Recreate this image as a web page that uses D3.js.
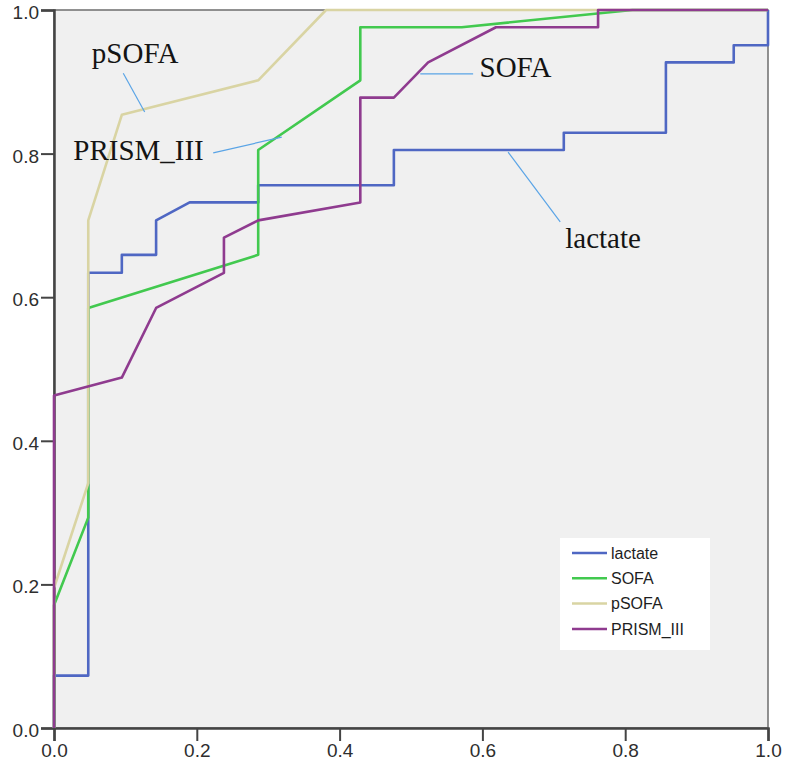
<!DOCTYPE html>
<html>
<head>
<meta charset="utf-8">
<script src="https://cdn.jsdelivr.net/npm/d3@7"></script>
<style>
  body { margin: 0; background: #fff; }
  svg { display: block; }
</style>
</head>
<body>
<svg id="chart" width="786" height="769"></svg>
<script>
// ROC curves: 1 - specificity (x) vs sensitivity (y)
const lactateX = [0, 0, 0.048, 0.048, 0.095, 0.095, 0.143, 0.143, 0.190, 0.286, 0.286, 0.476, 0.476, 0.714, 0.714, 0.857, 0.857, 0.952, 0.952, 1, 1]
const lactateY = [0, 0.073, 0.073, 0.634, 0.634, 0.659, 0.659, 0.707, 0.732, 0.732, 0.756, 0.756, 0.805, 0.805, 0.829, 0.829, 0.927, 0.927, 0.951, 0.951, 1]
const sofaX = [0, 0, 0.048, 0.048, 0.286, 0.286, 0.429, 0.429, 0.571, 0.810, 1]
const sofaY = [0, 0.171, 0.293, 0.585, 0.659, 0.805, 0.902, 0.976, 0.976, 1, 1]
const psofaX = [0, 0, 0.048, 0.048, 0.095, 0.286, 0.381, 1]
const psofaY = [0, 0.195, 0.341, 0.707, 0.854, 0.902, 1, 1]
const prismX = [0, 0, 0.095, 0.143, 0.238, 0.238, 0.286, 0.429, 0.429, 0.476, 0.524, 0.619, 0.762, 0.762, 1]
const prismY = [0, 0.463, 0.488, 0.585, 0.634, 0.683, 0.707, 0.732, 0.878, 0.878, 0.927, 0.976, 0.976, 1, 1]

const seriesNames = ["lactate", "SOFA", "pSOFA", "PRISM_III"]
const seriesColors = ["#4f67c3", "#42c94f", "#d9d4a3", "#8f3b8f"]
const ticks = [0, 0.2, 0.4, 0.6, 0.8, 1.0]

// curve labels with leader lines: [text, labelX, labelY, fromX, fromY, toX, toY] in data units
const callouts = [
  ["pSOFA", 0.053, 0.926, 0.097, 0.912, 0.127, 0.858],
  ["PRISM_III", 0.027, 0.791, 0.223, 0.801, 0.319, 0.823],
  ["SOFA", 0.596, 0.907, 0.513, 0.911, 0.587, 0.911],
  ["lactate", 0.716, 0.669, 0.636, 0.802, 0.709, 0.705]
]

const series = [
  {name: seriesNames[0], xs: lactateX, ys: lactateY},
  {name: seriesNames[1], xs: sofaX, ys: sofaY},
  {name: seriesNames[2], xs: psofaX, ys: psofaY},
  {name: seriesNames[3], xs: prismX, ys: prismY}
]

const svg = d3.select("#chart"),
      padLeft = 54, padRight = 768, padTop = 10, padBottom = 728

const x = d3.scaleLinear().domain([0, 1]).range([padLeft, padRight])
const y = d3.scaleLinear().domain([0, 1]).range([padBottom, padTop])
const color = d3.scaleOrdinal().domain(seriesNames).range(seriesColors)

// plot background
svg.append("rect")
  .attr("x", padLeft).attr("y", padTop)
  .attr("width", padRight - padLeft).attr("height", padBottom - padTop)
  .attr("fill", "#f0f0f0")
  .attr("stroke", "#6e6e6e")
  .attr("stroke-width", 1.5)

// axes
const xAxis = svg.append("g")
  .attr("transform", `translate(0,${padBottom})`)
  .call(d3.axisBottom(x).tickValues(ticks).tickFormat(d3.format(".1f")).tickSize(13).tickPadding(3))
const yAxis = svg.append("g")
  .attr("transform", `translate(${padLeft},0)`)
  .call(d3.axisLeft(y).tickValues(ticks).tickFormat(d3.format(".1f")).tickSize(13).tickPadding(2))

;[xAxis, yAxis].forEach(g => {
  g.select(".domain").attr("stroke", "#444").attr("stroke-width", 2.5)
  g.selectAll(".tick line").attr("stroke", "#444").attr("stroke-width", 2)
  g.selectAll(".tick text")
    .attr("fill", "#2e2e2e")
    .attr("font-family", "Liberation Sans, Arial, sans-serif")
    .attr("font-size", 19)
})
yAxis.selectAll(".tick text").attr("dy", "0.45em")

// curves
const line = d3.line().x(d => x(d[0])).y(d => y(d[1]))
svg.append("g").selectAll("path")
  .data(series)
  .join("path")
  .attr("d", s => line(s.xs.map((v, i) => [v, s.ys[i]])))
  .attr("fill", "none")
  .attr("stroke", s => color(s.name))
  .attr("stroke-width", 2.6)
  .attr("stroke-linejoin", "round")

// callout labels
const notes = svg.append("g")
notes.selectAll("line")
  .data(callouts)
  .join("line")
  .attr("x1", d => x(d[3])).attr("y1", d => y(d[4]))
  .attr("x2", d => x(d[5])).attr("y2", d => y(d[6]))
  .attr("stroke", "#5aa4e6")
  .attr("stroke-width", 1.2)
notes.selectAll("text")
  .data(callouts)
  .join("text")
  .attr("x", d => x(d[1])).attr("y", d => y(d[2]))
  .attr("font-family", "Liberation Serif, Times New Roman, serif")
  .attr("font-size", 29)
  .attr("fill", "#141414")
  .text(d => d[0])

// legend
const legend = svg.append("g").attr("transform", "translate(560,538)")
legend.append("rect")
  .attr("width", 150).attr("height", 112)
  .attr("fill", "#fff")
const item = legend.selectAll(".item")
  .data(seriesNames)
  .join("g")
  .attr("class", "item")
  .attr("transform", (d, i) => `translate(0,${15 + i * 25.3})`)
item.append("line")
  .attr("x1", 12).attr("x2", 47)
  .attr("stroke", d => color(d))
  .attr("stroke-width", 2.5)
item.append("text")
  .attr("x", 51).attr("dy", "0.35em")
  .attr("font-family", "Liberation Sans, Arial, sans-serif")
  .attr("font-size", 16)
  .attr("fill", "#1e1e1e")
  .text(d => d)
</script>
</body>
</html>
